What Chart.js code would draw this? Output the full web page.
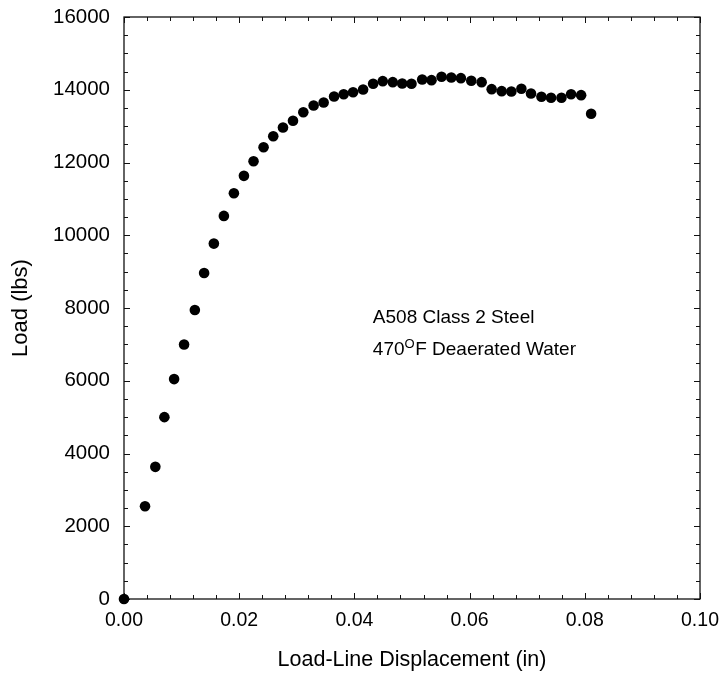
<!DOCTYPE html>
<html>
<head>
<meta charset="utf-8">
<script src="https://cdn.jsdelivr.net/npm/chart.js@4.4.1/dist/chart.umd.min.js"></script>
<style>
  html, body { margin: 0; padding: 0; background: #fff; }
  #wrap { width: 719px; height: 676px; position: relative; }
</style>
</head>
<body>
<div id="wrap"><canvas id="c" width="719" height="676"></canvas></div>
<script>
// ---- data ----
const displacement = [
  0.0000, 0.00365, 0.00544, 0.00701, 0.00870, 0.01043, 0.01230, 0.01391, 0.01560, 0.01734,
  0.01908, 0.02082, 0.02249, 0.02423, 0.02591, 0.02760, 0.02934, 0.03113, 0.03292, 0.03466,
  0.03647, 0.03814, 0.03977, 0.04151, 0.04325, 0.04492, 0.04666, 0.04830, 0.04991, 0.05177,
  0.05339, 0.05513, 0.05682, 0.05849, 0.06029, 0.06209, 0.06383, 0.06557, 0.06725, 0.06899,
  0.07066, 0.07247, 0.07414, 0.07595, 0.07762, 0.07936, 0.08110
];
const load = [
  0, 2551, 3633, 5000, 6046, 6998, 7945, 8963, 9770, 10532,
  11154, 11633, 12035, 12420, 12723, 12962, 13146, 13383, 13567, 13650,
  13815, 13878, 13933, 14008, 14165, 14236, 14209, 14173, 14165, 14283,
  14264, 14357, 14338, 14319, 14247, 14209, 14016, 13961, 13953, 14027,
  13898, 13807, 13779, 13779, 13878, 13851, 13339
];
const xTicks = [0.00, 0.02, 0.04, 0.06, 0.08, 0.10];
const yTicks = [0, 2000, 4000, 6000, 8000, 10000, 12000, 14000, 16000];
const xTitle = 'Load-Line Displacement (in)';
const yTitle = 'Load (lbs)';
const noteLine1 = 'A508 Class 2 Steel';
const noteLine2a = '470';
const noteLine2sup = 'O';
const noteLine2b = 'F Deaerated Water';
const noteAt = { x: 0.0432, y: 7590 };

const points = displacement.map((d, i) => ({ x: d, y: load[i] }));
const FONT = '"Liberation Sans", Arial, Helvetica, sans-serif';

function noPad(s) { s.paddingLeft = 0; s.paddingRight = 0; s.paddingTop = 0; s.paddingBottom = 0; }

const framePlugin = {
  id: 'frame',
  beforeDatasetsDraw(chart) {
    const { ctx, chartArea: a, scales: { x, y } } = chart;
    ctx.save();
    ctx.strokeStyle = '#111';
    ctx.lineWidth = 1.3;
    ctx.strokeRect(a.left, a.top, a.right - a.left, a.bottom - a.top);
    ctx.lineWidth = 1;
    ctx.beginPath();
    for (let k = 0; k <= 25; k++) {
      const v = k * 0.004;
      const px = Math.round(x.getPixelForValue(v)) + 0.5;
      const len = (k % 5 === 0) ? 6 : 4;
      ctx.moveTo(px, a.bottom); ctx.lineTo(px, a.bottom - len);
      ctx.moveTo(px, a.top); ctx.lineTo(px, a.top + len);
    }
    for (let k = 0; k <= 32; k++) {
      const v = k * 500;
      const py = Math.round(y.getPixelForValue(v)) + 0.5;
      const len = (k % 4 === 0) ? 6 : 4;
      ctx.moveTo(a.left, py); ctx.lineTo(a.left + len, py);
      ctx.moveTo(a.right, py); ctx.lineTo(a.right - len, py);
    }
    ctx.stroke();
    ctx.restore();
  },
  afterDatasetsDraw(chart) {
    const { ctx, scales: { x, y } } = chart;
    const px = x.getPixelForValue(noteAt.x);
    const py = y.getPixelForValue(noteAt.y);
    ctx.save();
    ctx.fillStyle = '#000';
    ctx.textBaseline = 'alphabetic';
    ctx.textAlign = 'left';
    ctx.font = '19px ' + FONT;
    ctx.fillText(noteLine1, px, py);
    const py2 = py + 32;
    ctx.fillText(noteLine2a, px, py2);
    let cx = px + ctx.measureText(noteLine2a).width;
    ctx.font = '13px ' + FONT;
    ctx.fillText(noteLine2sup, cx, py2 - 7);
    cx += ctx.measureText(noteLine2sup).width + 0.5;
    ctx.font = '19px ' + FONT;
    ctx.fillText(noteLine2b, cx, py2);
    ctx.restore();
  }
};

new Chart(document.getElementById('c'), {
  type: 'scatter',
  data: {
    datasets: [{
      data: points,
      backgroundColor: '#000',
      borderColor: '#000',
      pointRadius: 5.3,
      pointHoverRadius: 5.3,
      borderWidth: 0,
      clip: false
    }]
  },
  options: {
    responsive: false,
    animation: false,
    events: [],
    layout: { padding: { left: 0, top: 17, right: 19, bottom: 0 } },
    plugins: { legend: { display: false }, tooltip: { enabled: false } },
    scales: {
      x: {
        type: 'linear',
        min: 0, max: 0.10,
        afterBuildTicks(s) { s.ticks = xTicks.map(v => ({ value: v })); },
        afterFit(s) { s.height = 77; noPad(s); },
        grid: { display: false, drawTicks: false },
        border: { display: false },
        ticks: {
          color: '#000', padding: 10,
          font: { family: FONT, size: 19.5 },
          callback: v => Number(v).toFixed(2)
        },
        title: {
          display: true, text: xTitle, color: '#000',
          font: { family: FONT, size: 21.5 },
          padding: { top: 0, bottom: 3 }
        }
      },
      y: {
        type: 'linear',
        min: 0, max: 16000,
        afterBuildTicks(s) { s.ticks = yTicks.map(v => ({ value: v })); },
        afterFit(s) { s.width = 124; noPad(s); },
        grid: { display: false, drawTicks: false },
        border: { display: false },
        ticks: {
          color: '#000', padding: 14,
          font: { family: FONT, size: 20.5 },
          callback: v => String(v)
        },
        title: {
          display: true, text: yTitle, color: '#000',
          font: { family: FONT, size: 22 },
          padding: { top: 8, bottom: 0 }
        }
      }
    }
  },
  plugins: [framePlugin]
});
</script>
</body>
</html>
